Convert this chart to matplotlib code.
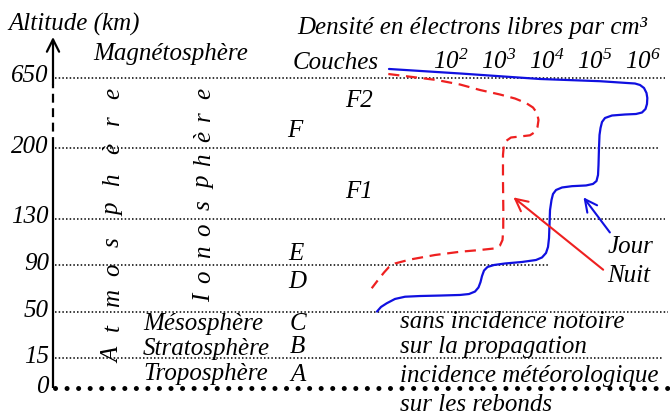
import numpy as np
import matplotlib
matplotlib.use("Agg")
import matplotlib.pyplot as plt
from matplotlib.ticker import NullLocator
from matplotlib.transforms import ScaledTranslation

plt.rcParams['font.family'] = ['Liberation Serif', 'DejaVu Serif']
plt.rcParams['font.style'] = 'italic'
plt.rcParams['mathtext.fontset'] = 'custom'
plt.rcParams['mathtext.it'] = 'Liberation Serif:italic'
plt.rcParams['mathtext.rm'] = 'Liberation Serif:italic'

# ---------------- data ----------------
altitude_levels = [0, 15, 50, 90, 130, 200, 650]
altitude_labels = ['0', '15', '50', '90', '130', '200', '650']
density_ticks = [1e2, 1e3, 1e4, 1e5, 1e6]
density_labels = [r'$10^{2}$', r'$10^{3}$', r'$10^{4}$', r'$10^{5}$', r'$10^{6}$']

# day (Jour) electron density profile: log10(density per cm3), altitude (km)
day_log_density = [0.708, 2.19, 3.854, 5.104, 5.667, 5.833, 5.938, 6.021, 6.073, 6.090,
                   6.083, 6.052, 5.979, 5.854, 5.625, 5.354, 5.208, 5.146, 5.115, 5.094,
                   5.083, 5.073, 5.063, 5.031, 4.958, 4.813, 4.521, 4.313, 4.188, 4.125,
                   4.094, 4.063, 4.052, 4.042, 4.021, 3.979, 3.896, 3.771, 3.479, 3.125,
                   2.896, 2.760, 2.688, 2.646, 2.615, 2.573, 2.500, 2.375, 2.188, 1.771,
                   1.354, 1.042, 0.833, 0.660, 0.542, 0.458]
day_altitude = [708, 679, 643.6, 629.4, 617.9, 614.6, 605.0, 585.7, 553.6, 521.4,
                482.9, 450.7, 428.2, 418.6, 415.4, 408.9, 392.9, 367.1, 328.6, 283.6,
                200, 183.1, 173.2, 167.2, 164.3, 162.8, 162.1, 160.8, 158.3, 154.3,
                148.4, 138.4, 124.4, 113.2, 105.5, 100.3, 96.5, 94.3, 92.6, 91.3,
                90, 88.3, 85.3, 80.6, 75.5, 70.9, 67.4, 65.3, 64.5, 64.0,
                63.6, 63.0, 61.1, 57.4, 54.3, 50.4]

# night (Nuit) electron density profile
night_log_density = [0.694, 1.146, 1.702, 2.188, 2.604, 3.021, 3.333, 3.563, 3.708, 3.792,
                     3.823, 3.802, 3.750, 3.646, 3.438, 3.250, 3.146, 3.100, 3.083, 3.083,
                     3.090, 3.088, 3.073, 3.021, 2.896, 2.604, 2.188, 1.667, 1.146, 0.833,
                     0.708, 0.604, 0.479, 0.348]
night_altitude = [675.7, 658.4, 637.1, 608.2, 572.9, 543.9, 518.2, 489.3, 460.4, 425.0,
                  380.0, 335.0, 302.9, 281.6, 273.9, 267.5, 245.0, 212.9, 193.1, 168.2,
                  138.4, 120.1, 111.5, 106.8, 104.2, 102.9, 101.4, 98.6, 94.7, 91.3,
                  88.3, 83.6, 77.2, 70.2]

layer_names = ['F2', 'F', 'F1', 'E', 'D', 'C', 'B', 'A']
sphere_names = ['Mésosphère', 'Stratosphère', 'Troposphère']
remarks = ['sans incidence notoire', 'sur la propagation',
           'incidence météorologique', 'sur les rebonds']
vertical_words = ['Atmosphère', 'Ionosphère']

# ---------------- layout ----------------
W, H = 670, 415
LEVEL_PX = [388, 358, 312, 265, 218.5, 148, 78]
LINE_END_PX = [668, 662, 668, 550, 665, 658, 665]
AXIS_X = 53
FS = 18

LEV = np.array(altitude_levels, float)
POS = -np.array(LEVEL_PX, float)
s_lo = (POS[1] - POS[0]) / (LEV[1] - LEV[0])
s_hi = (POS[-1] - POS[-2]) / (LEV[-1] - LEV[-2])


def fwd(a):
    a = np.asarray(a, float)
    u = np.interp(a, LEV, POS)
    u = np.where(a < LEV[0], POS[0] + (a - LEV[0]) * s_lo, u)
    u = np.where(a > LEV[-1], POS[-1] + (a - LEV[-1]) * s_hi, u)
    return u


def inv(u):
    u = np.asarray(u, float)
    a = np.interp(u, POS, LEV)
    a = np.where(u < POS[0], LEV[0] + (u - POS[0]) / s_lo, a)
    a = np.where(u > POS[-1], LEV[-1] + (u - POS[-1]) / s_hi, a)
    return a


fig = plt.figure(figsize=(W / 100, H / 100), dpi=100)
fig.patch.set_facecolor('white')
ax = fig.add_axes([0, 0, 1, 1])
ax.set_facecolor('none')
ax.set_xscale('log')
ax.set_xlim(10 ** (2 - 451 / 48), 10 ** (2 + 219 / 48))
ax.set_yscale('function', functions=(fwd, inv))
ax.set_ylim(float(inv(-H)), float(inv(0)))

for s in ax.spines.values():
    s.set_visible(False)

# y ticks (altitudes) on the left at the axis position
ax.spines['left'].set_position(('axes', AXIS_X / W))
ax.set_yticks(altitude_levels, altitude_labels, fontsize=FS, fontstyle='italic')
ax.yaxis.set_minor_locator(NullLocator())
ax.tick_params(axis='y', length=0, pad=3)
off = ScaledTranslation(0, 4 / 100, fig.dpi_scale_trans)
for lbl in ax.get_yticklabels():
    lbl.set_transform(lbl.get_transform() + off)

# x ticks (densities) on top
ax.xaxis.tick_top()
ax.spines['top'].set_position(('axes', 1 - 77 / H))
ax.set_xticks(density_ticks, density_labels, fontsize=FS)
ax.xaxis.set_minor_locator(NullLocator())
ax.tick_params(axis='x', length=0, pad=2)

# horizontal dotted level lines
for lev, end in zip(altitude_levels, LINE_END_PX):
    if lev == 0:
        ax.axhline(lev, xmin=55 / W, xmax=end / W, color='black', lw=3.6,
                   ls=(0, (0.01, 2.3)), dash_capstyle='round')
    else:
        ax.axhline(lev, xmin=55 / W, xmax=end / W, color='black', lw=1.1,
                   ls=(0, (1, 1.4)))

# vertical axis
yt = ax.get_yaxis_transform()
ax.plot([AXIS_X / W] * 2, [0, 210], transform=yt, color='black', lw=1.6,
        solid_capstyle='butt')
ax.plot([AXIS_X / W] * 2, [215, 610], transform=yt, color='black', lw=1.6,
        ls=(0, (4, 2.5)))
ax.annotate('', xy=(AXIS_X / W, 1 - 37 / H), xycoords='axes fraction',
            xytext=(AXIS_X / W, 610), textcoords=yt,
            arrowprops=dict(arrowstyle='->', lw=1.6, color='black',
                            shrinkA=0, shrinkB=0, mutation_scale=22))

# profiles
ax.plot(10 ** np.array(day_log_density), day_altitude, color='#1010e0', lw=1.6,
        solid_joinstyle='round', solid_capstyle='round')
ax.plot(10 ** np.array(night_log_density), night_altitude, color='#ee2020',
        lw=1.6, ls=(0, (5, 3)), dash_joinstyle='round')

# arrows to profiles
ax.annotate('', xy=(10 ** 3.30, 151), xytext=(10 ** 5.17, 86),
            arrowprops=dict(arrowstyle='->', lw=1.5, color='#ee2020',
                            shrinkA=0, shrinkB=0, mutation_scale=22))
ax.annotate('', xy=(10 ** 4.76, 151), xytext=(10 ** 5.31, 118),
            arrowprops=dict(arrowstyle='->', lw=1.5, color='#1010e0',
                            shrinkA=0, shrinkB=0, mutation_scale=22))


def ptext(x, y, s, **kw):
    kw.setdefault('va', 'baseline')
    kw.setdefault('ha', 'left')
    kw.setdefault('fontsize', FS)
    fig.text(x / W, 1 - y / H, s, **kw)


ptext(8, 31, 'Altitude (km)')
ptext(297, 34, 'Densité en électrons libres par cm³')
ptext(93, 60, 'Magnétosphère')
ptext(293, 69, 'Couches')

layer_pos = [(345, 107), (287, 137), (345, 198), (288, 260), (288, 288),
             (290, 330), (290, 353), (290, 381)]
for name, (x, y) in zip(layer_names, layer_pos):
    ptext(x, y, name)

for name, y in zip(sphere_names, [330, 355, 380]):
    ptext(143, y, name)
for txt, y in zip(remarks, [328, 353, 382, 411]):
    ptext(400, y, txt)

ptext(608, 253, 'Jour')
ptext(607, 282, 'Nuit')

# vertical spaced words
letter_y = [
    [355, 327, 298, 270, 242, 210, 180, 148, 120, 93],
    [298, 277, 252, 230, 205, 183, 160, 136, 116, 93],
]
letter_x = [119, 210]
for word, ys, x in zip(vertical_words, letter_y, letter_x):
    for ch, y in zip(word, ys):
        fig.text(x / W, 1 - y / H, ch, rotation=90, rotation_mode='anchor',
                 ha='center', va='baseline', fontsize=FS)

fig.savefig('out.png', dpi=100, facecolor='white')
